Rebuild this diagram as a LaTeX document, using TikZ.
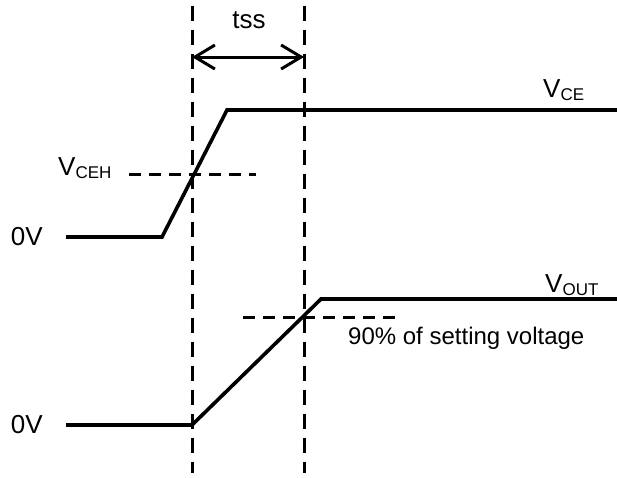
\documentclass[tikz,border=0pt]{standalone}
\usepackage{fontspec}
\setmainfont{Liberation Sans}
\usetikzlibrary{arrows.meta,positioning}
\tikzset{
  tm/signal/.style={line width=3.6pt, line join=miter},
  tm/guide/.style={line width=3pt, dash pattern=on 15pt off 9pt},
  tm/level/.style={line width=3pt, dash pattern=on 12pt off 8pt},
  tm/label/.style={font=\fontsize{26}{30}\selectfont, inner sep=0pt},
  tm/note/.style={font=\fontsize{24}{28}\selectfont, inner sep=0pt},
  tm/span/.style={line width=3pt, {Straight Barb[length=20pt,width=24pt]}-{Straight Barb[length=20pt,width=24pt]}}
}
\newcommand{\vsub}[1]{V\raisebox{-3pt}{\fontsize{17}{20}\selectfont #1}}

\begin{document}
\begin{tikzpicture}[x=1pt, y=-1pt]
  \useasboundingbox (0,0) rectangle (617,477);
  % time markers
  \coordinate (ta) at (192,6);   \coordinate (tab) at (192,473);
  \coordinate (tb) at (304,6);   \coordinate (tbb) at (304,473);
  \draw[tm/guide] (ta) -- (tab);
  \draw[tm/guide] (tb) -- (tbb);
  \coordinate (sa) at (192,57);  \coordinate (sb) at (304,57);
  \draw[tm/span] (sa) -- (sb);
  \node[tm/label, anchor=base] (tss) at (249,28) {tss};
  % V_CE
  \coordinate (ce0) at (66,237);  \coordinate (ce1) at (162,237);
  \coordinate (ce2) at (227,110); \coordinate (ce3) at (617,110);
  \draw[tm/signal] (ce0) -- (ce1) -- (ce2) -- (ce3);
  \node[tm/label, left=23pt of ce0] (zce) {0V};
  \node[tm/label, anchor=base west] (vce) at (543,97) {\vsub{CE}};
  \coordinate (ha) at (129,174);  \coordinate (hb) at (256,174);
  \draw[tm/level] (ha) -- (hb);
  \node[tm/label, anchor=base west] (vceh) at (58,175) {\vsub{CEH}};
  % V_OUT
  \coordinate (out0) at (66,425); \coordinate (out1) at (192,425);
  \coordinate (out2) at (321,299); \coordinate (out3) at (617,299);
  \draw[tm/signal] (out0) -- (out1) -- (out2) -- (out3);
  \node[tm/label, left=23pt of out0] (zout) {0V};
  \node[tm/label, anchor=base west] (vout) at (545,292) {\vsub{OUT}};
  \coordinate (pa) at (243,317);  \coordinate (pb) at (402,317);
  \draw[tm/level] (pa) -- (pb);
  \node[tm/note, anchor=base west] (pct) at (348,344) {90\% of setting voltage};
\end{tikzpicture}
\end{document}
